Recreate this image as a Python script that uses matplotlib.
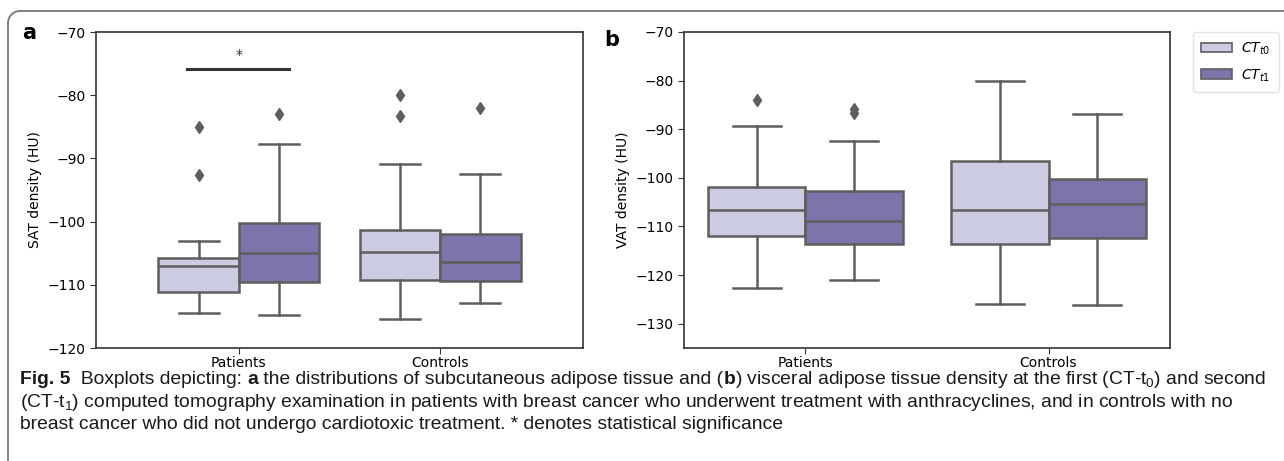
import matplotlib
matplotlib.use("Agg")
import matplotlib.pyplot as plt
from matplotlib.patches import Patch, Arc
from matplotlib.lines import Line2D

# ---- data ----
groups = ["Patients", "Controls"]
series = ["CT_t0", "CT_t1"]
legend_labels = [r"$CT_{t0}$", r"$CT_{t1}$"]

# SAT density (HU): order = Patients t0, Patients t1, Controls t0, Controls t1
sat_whislo = [-114.5, -114.7, -115.4, -112.9]
sat_q1 = [-111.2, -109.6, -109.3, -109.4]
sat_med = [-107.1, -105.0, -104.8, -106.4]
sat_q3 = [-105.8, -100.3, -101.4, -102.0]
sat_whishi = [-103.0, -87.8, -90.9, -92.4]
sat_fliers = [[-85.0, -92.7], [-83.0], [-79.9, -83.3], [-82.1]]

# VAT density (HU)
vat_whislo = [-122.6, -121.1, -125.9, -126.1]
vat_q1 = [-112.0, -113.6, -113.6, -112.4]
vat_med = [-106.7, -108.8, -106.6, -105.3]
vat_q3 = [-101.8, -102.7, -96.5, -100.3]
vat_whishi = [-89.3, -92.5, -80.0, -86.9]
vat_fliers = [[-84.0], [-85.8, -86.6], [], []]

colors = ["#cbcbe1", "#7e73aa"]
edge = "#5e5e5e"

plt.rcParams["font.family"] = "DejaVu Sans"
W, H = 12.84, 4.61
fig = plt.figure(figsize=(W, H), dpi=100)


def make_stats(whislo, q1, med, q3, whishi, fliers):
    stats = []
    for i in range(len(med)):
        stats.append({"whislo": whislo[i], "q1": q1[i], "med": med[i],
                      "q3": q3[i], "whishi": whishi[i], "fliers": fliers[i]})
    return stats


def draw_panel(ax, stats, ylabel, ylim, xlim):
    positions = []
    for g in range(len(groups)):
        for s in range(len(series)):
            positions.append(g - 0.2 + 0.4 * s)
    ax.bxp(stats, positions=positions, widths=0.4, patch_artist=True,
           showfliers=True,
           boxprops=dict(edgecolor=edge, linewidth=1.8),
           medianprops=dict(color=edge, linewidth=1.8),
           whiskerprops=dict(color=edge, linewidth=1.8),
           capprops=dict(color=edge, linewidth=1.8),
           capwidths=0.2,
           flierprops=dict(marker="d", markerfacecolor=edge, markeredgecolor=edge,
                           markersize=6))
    for i, box in enumerate(ax.patches):
        box.set_facecolor(colors[i % 2])
    ax.set_xticks(range(len(groups)))
    ax.set_xticklabels(groups)
    ax.set_xlim(*xlim)
    ax.set_ylim(*ylim)
    ax.set_ylabel(ylabel, fontsize=10)
    ax.tick_params(labelsize=10, length=4, color="#333333")
    ax.tick_params(axis="x", pad=2)
    for sp in ax.spines.values():
        sp.set_color("#333333")
        sp.set_linewidth(1.2)


ax1 = fig.add_axes([96 / 1284, 1 - 348 / 461, 487 / 1284, 316 / 461])
draw_panel(ax1, make_stats(sat_whislo, sat_q1, sat_med, sat_q3, sat_whishi, sat_fliers),
           "SAT density (HU)", (-120, -70), (-0.71, 1.71))
ax1.set_yticks([-120, -110, -100, -90, -80, -70])
ax1.plot([-0.26, 0.25], [-75.8, -75.8], color="#333333", lw=2.2)
ax1.text(0, -73.6, "*", ha="center", va="center", fontsize=10, color="#333333")

ax2 = fig.add_axes([684 / 1284, 1 - 348 / 461, 486 / 1284, 316 / 461])
draw_panel(ax2, make_stats(vat_whislo, vat_q1, vat_med, vat_q3, vat_whishi, vat_fliers),
           "VAT density (HU)", (-135, -70), (-0.5, 1.5))
ax2.set_yticks([-130, -120, -110, -100, -90, -80, -70])

handles = [Patch(facecolor=colors[i], edgecolor=edge, linewidth=1.2) for i in range(2)]
leg = ax2.legend(handles, legend_labels, loc="upper left", bbox_to_anchor=(1.047, 1.0),
                 fontsize=10, frameon=True, handlelength=2.2, borderpad=0.6,
                 labelspacing=0.75, handletextpad=0.7, borderaxespad=0)
leg.get_frame().set_edgecolor("#dddddd")

fig.text(22 / 1284, 1 - 33 / 461, "a", fontsize=15, fontweight="bold", va="center")
fig.text(604 / 1284, 1 - 40 / 461, "b", fontsize=15, fontweight="bold", va="center")

# ---- caption ----
cap_font = "Liberation Sans"
plt.rcParams["mathtext.fontset"] = "custom"
plt.rcParams["mathtext.rm"] = cap_font
plt.rcParams["mathtext.it"] = cap_font + ":italic"
renderer = fig.canvas.get_renderer()

cap_line1 = [("Fig. 5", True), ("  Boxplots depicting: ", False), ("a", True),
             (" the distributions of subcutaneous adipose tissue and (", False), ("b", True),
             (r") visceral adipose tissue density at the first (CT-t$_\mathrm{0}$) and second", False)]
cap_line2 = [(r"(CT-t$_\mathrm{1}$) computed tomography examination in patients with breast cancer "
              "who underwent treatment with anthracyclines, and in controls with no", False)]
cap_line3 = [("breast cancer who did not undergo cardiotoxic treatment. * denotes statistical "
              "significance", False)]


def write_runs(runs, x_px, y_px, size):
    x = x_px
    made = []
    for txt, bold in runs:
        t = fig.text(x / (W * 100), 1 - y_px / (H * 100), txt, family=cap_font,
                     fontsize=size, fontweight="bold" if bold else "normal",
                     va="baseline", ha="left", color="#1a1a1a")
        x += t.get_window_extent(renderer).width
        made.append(t)
    return x - x_px, made


# fit the first caption line to the width it takes in the reference
w, tmp = write_runs(cap_line1, 20, 383, 11)
for t in tmp:
    t.remove()
cap_size = 11 * 1242 / w

write_runs(cap_line1, 20, 384, cap_size)
write_runs(cap_line2, 20, 407, cap_size)
write_runs(cap_line3, 20, 429, cap_size)

# ---- frame: left and top border with rounded corner ----
r = 0.12
x0, y0 = 0.08, H - 0.11
fig.add_artist(Line2D([x0, x0], [0, y0 - r], color="#777777", lw=1.3,
                      transform=fig.dpi_scale_trans))
fig.add_artist(Line2D([x0 + r, W], [y0, y0], color="#777777", lw=1.3,
                      transform=fig.dpi_scale_trans))
fig.add_artist(Arc((x0 + r, y0 - r), 2 * r, 2 * r, theta1=90, theta2=180,
                   color="#777777", lw=1.3, transform=fig.dpi_scale_trans))

fig.savefig("out.png", dpi=100)
